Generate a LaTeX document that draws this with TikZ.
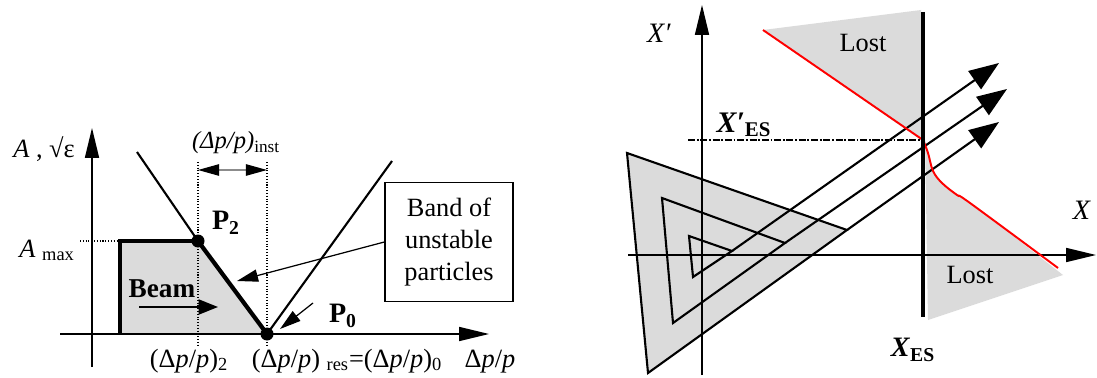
\documentclass[tikz,border=0pt]{standalone}
\usepackage{fontspec}
\setmainfont{Liberation Serif}
\usetikzlibrary{arrows.meta}

\begin{document}
\begin{tikzpicture}[x=0.02cm, y=-0.02cm, font=\fontsize{15}{18.4}\selectfont,
  axis/.style={line width=0.8pt, -{Triangle[length=17pt, width=8pt]}},
  pointer/.style={line width=0.7pt, -{Triangle[length=12pt, width=7pt]}},
  shade/.style={fill=black!14},
  guide/.style={densely dotted, line width=0.6pt},
  beam/.style={line width=1.8pt, line join=miter},
  ray/.style={line width=1.2pt, -{Triangle[length=17pt, width=12.5pt]}},
  lossline/.style={red, line width=1.1pt},
  plabel/.style={font=\fontsize{16}{18}\selectfont\bfseries}]
  \useasboundingbox (0,0) rectangle (1097,378);

  % left: band of unstable particles
  \coordinate (P2) at (198,241);
  \coordinate (P0) at (267,334);
  \coordinate (Bl) at (120,334);
  \coordinate (Tl) at (120,241);
  \fill[shade] (Tl) -- (P2) -- (P0) -- (Bl) -- cycle;
  \draw[axis] (92,367) -- (92,128);
  \draw[axis] (60,334) -- (489,334);
  \draw[beam] (Bl) -- (Tl) -- (P2);
  \draw[line width=1.2pt] (137,152) -- (P2);
  \draw[line width=2.4pt] (P2) -- (P0);
  \draw[line width=1.2pt] (P0) -- (392,161);
  \fill (P2) circle (6.5);
  \fill (P0) circle (6.5);
  % limits of the band
  \draw[guide] (198,162) -- (198,347);
  \draw[guide] (267,162) -- (267,347);
  \draw[guide] (80,241) -- (Tl);
  \coordinate (w1) at (198,170);
  \coordinate (w2) at (267,170);
  \draw[black!45, line width=0.7pt, {Triangle[length=12pt, width=6.5pt, color=black]}-{Triangle[length=12pt, width=6.5pt, color=black]}] (w1) -- (w2);
  \node[font=\fontsize{14}{16}\selectfont] (inst) at (236,143) {\textit{(Δp/p)}\textsubscript{inst}};
  % axis labels
  \node[anchor=base] (ylab) at (44,157) {\textit{A} , √ε};
  \node[anchor=base east] (amax) at (81,257) {\textit{A} \textsubscript{max}};
  \node[anchor=base] (d2) at (189,367) {(Δ\textit{p}/\textit{p})\textsubscript{2}};
  \node[anchor=base] (d0) at (347,367) {(Δ\textit{p}/\textit{p}) \textsubscript{res}=(Δ\textit{p}/\textit{p})\textsubscript{0}};
  \node[anchor=base] (dp) at (490,367) {Δ\textit{p}/\textit{p}};
  % points and beam
  \node[plabel] (p2lab) at (226,223) {P\textsubscript{2}};
  \node[plabel] (p0lab) at (343,316) {P\textsubscript{0}};
  \node[font=\fontsize{15.5}{17}\selectfont\bfseries] (beamlab) at (162,289) {Beam};
  \coordinate (b1) at (139,307);
  \coordinate (b2) at (218,307);
  \draw[line width=1.2pt, -{Triangle[length=11pt, width=8.5pt]}] (b1) -- (b2);
  \coordinate (p0tail) at (313,303);
  \coordinate (p0tip) at (280,329);
  \draw[pointer] (p0tail) -- (p0tip);
  \node[draw, line width=0.8pt, align=center, minimum width=2.56cm, minimum height=2.38cm] (band) at (449,242) {Band of\\unstable\\particles};
  \coordinate (bandtip) at (237,281);
  \draw[pointer] (band.west) -- (bandtip);

  % right: extraction phase space
  \coordinate (Xes) at (923,140);
  \fill[shade] (763,30) -- (921,10) -- (921,140) -- cycle;
  \fill[shade] plot[smooth, tension=0.6] coordinates {(925,140) (929,154) (934,171) (943,183) (958,195) (971,203)} -- (1063,275) -- (928,320) -- cycle;
  \fill[shade] (627,153) -- (847,230) -- (648,373) -- cycle;
  \draw[axis] (702,375) -- (702,5);
  \draw[axis] (628,255) -- (1096,255);
  % triangles, each one turning into a ray
  \foreach \ax/\ay/\bx/\by/\cx/\cy/\tx/\ty in {627/153/847/230/648/373/999/122, 662/198/785/243/673/323/1007/89, 689/236/732/251/693/277/999/63}{
    \draw[line width=1.2pt, line join=miter] (\ax,\ay) -- (\bx,\by) -- (\cx,\cy) -- cycle;
    \draw[ray] (\bx,\by) -- (\tx,\ty);
  }
  \draw[line width=1.7pt, dash pattern=on 4pt off 1pt on 1pt off 1pt] (688,140) -- (Xes);
  \draw[lossline] (763,30) -- (Xes);
  \draw[lossline] plot[smooth, tension=0.6] coordinates {(Xes) (928,153) (933,171) (942,183) (957,195) (970,203) (1058,268)};
  \draw[line width=2.6pt] (923,12) -- (923,317);
  \node (lost1) at (863,43) {Lost};
  \node (lost2) at (970,275) {Lost};
  \node (xplab) at (659,33) {\fontsize{16}{18}\selectfont\textit{X′}};
  \node (xlab) at (1082,210) {\fontsize{16}{18}\selectfont\textit{X}};
  \node (xpes) at (744,125) {\fontsize{17}{19}\selectfont\textbf{\textit{X′}}\textsubscript{\textbf{ES}}};
  \node (xes) at (913,350) {\fontsize{16}{18}\selectfont\textbf{\textit{X}}\textsubscript{\textbf{ES}}};
\end{tikzpicture}
\end{document}
